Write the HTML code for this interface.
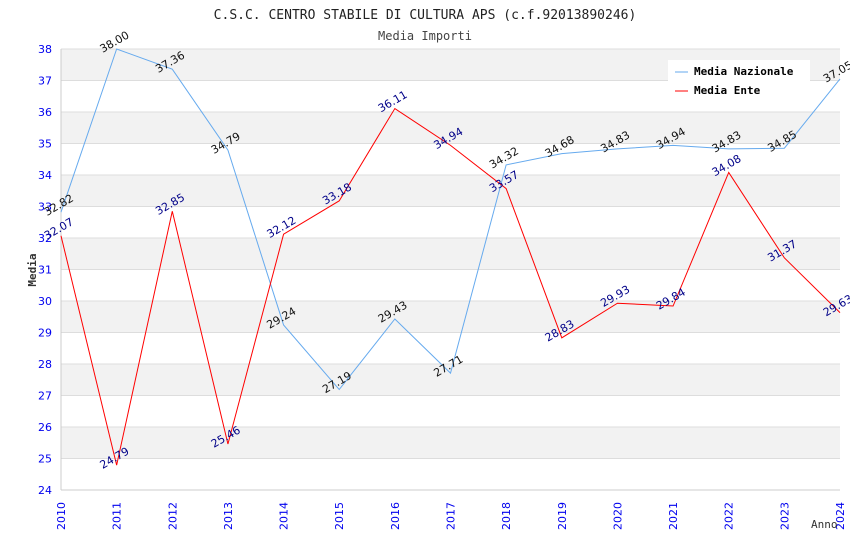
<!DOCTYPE html>
<html><head><meta charset="utf-8"><style>
body{margin:0;background:#fff;}
svg{font-family:"DejaVu Sans","Liberation Sans",sans-serif;}
</style></head><body>
<svg id="c" width="850" height="550" xmlns="http://www.w3.org/2000/svg">
<text x="425" y="19" text-anchor="middle" font-family="DejaVu Sans Mono,Liberation Mono,monospace" font-size="13" fill="#222">C.S.C. CENTRO STABILE DI CULTURA APS (c.f.92013890246)</text>
<text x="425" y="40" text-anchor="middle" font-family="DejaVu Sans Mono,Liberation Mono,monospace" font-size="12" fill="#444">Media Importi</text>
<g id="grid"></g><g id="series"></g><g id="labels"></g>
<text x="36" y="270" transform="rotate(-90 36 270)" text-anchor="middle" font-family="DejaVu Sans Mono,Liberation Mono,monospace" font-weight="bold" font-size="11" fill="#333">Media</text>
<text x="811" y="528" font-family="DejaVu Sans Mono,Liberation Mono,monospace" font-size="11" fill="#333">Anno</text>
<g>
<rect x="668" y="60" width="142" height="42" fill="#fff"/>
<line x1="675" y1="72" x2="688" y2="72" stroke="#66aaee"/>
<text x="694" y="75" font-family="DejaVu Sans Mono,Liberation Mono,monospace" font-weight="bold" font-size="11" fill="#000">Media Nazionale</text>
<line x1="675" y1="91" x2="688" y2="91" stroke="#ff0000"/>
<text x="694" y="94" font-family="DejaVu Sans Mono,Liberation Mono,monospace" font-weight="bold" font-size="11" fill="#000">Media Ente</text>
</g>
</svg>
<script>
const years=[2010,2011,2012,2013,2014,2015,2016,2017,2018,2019,2020,2021,2022,2023,2024];
const nazionale=[32.82,38.00,37.36,34.79,29.24,27.19,29.43,27.71,34.32,34.68,34.83,34.94,34.83,34.85,37.05];
const ente=[32.07,24.79,32.85,25.46,32.12,33.18,36.11,34.94,33.57,28.83,29.93,29.84,34.08,31.37,29.63];
const yTicks=[24,25,26,27,28,29,30,31,32,33,34,35,36,37,38];
const NS="http://www.w3.org/2000/svg";
const L=61,R=840,T=49,B=490,yMin=24,yMax=38;
const xs=i=>L+(R-L)*i/(years.length-1);
const ys=v=>B-(v-yMin)/(yMax-yMin)*(B-T);
function mk(t,a,p){const e=document.createElementNS(NS,t);for(const k in a)e.setAttribute(k,a[k]);p.appendChild(e);return e;}
const g=document.getElementById('grid'),s=document.getElementById('series'),lb=document.getElementById('labels');
for(let i=0;i<yTicks.length-1;i++){
 if((yTicks.length-2-i)%2==0){const r=mk('rect',{x:L,y:ys(yTicks[i+1]),width:R-L,height:ys(yTicks[i])-ys(yTicks[i+1]),fill:'#f2f2f2'},g);
 
 }
}
yTicks.forEach(v=>{
 const l=mk('line',{x1:L,x2:R,y1:ys(v),y2:ys(v),stroke:'#dddddd'},g);
 
 
 const t=mk('text',{x:52,y:ys(v)+4,'text-anchor':'end','font-size':11,fill:'#0000ee'},g);t.textContent=v;
 
 
});
mk('line',{x1:L,x2:L,y1:T,y2:B,stroke:'#ccc'},g);
mk('line',{x1:L,x2:R,y1:B,y2:B,stroke:'#ccc'},g);
years.forEach((y,i)=>{
 const x=xs(i)+4,yy=530;
 const t=mk('text',{x:x,y:yy,transform:`rotate(-90 ${x} ${yy})`,'font-size':11,fill:'#0000ee'},g);t.textContent=y;
 
 
});
function series(arr,color,lc,name){
 const p=mk('polyline',{points:arr.map((v,i)=>xs(i)+','+ys(v)).join(' '),fill:'none',stroke:color,'stroke-width':1},s);
 
 
 arr.forEach((v,i)=>{
  const x=xs(i)-14,y=ys(v)+4;
  const t=mk('text',{x:x,y:y,transform:`rotate(-30 ${x} ${y})`,'font-size':11,fill:lc},lb);t.textContent=v.toFixed(2);
  
  
 });
}
series(nazionale,'#66aaee','#111','nazionale');
series(ente,'#ff0000','#000088','ente');
</script>
</body></html>
